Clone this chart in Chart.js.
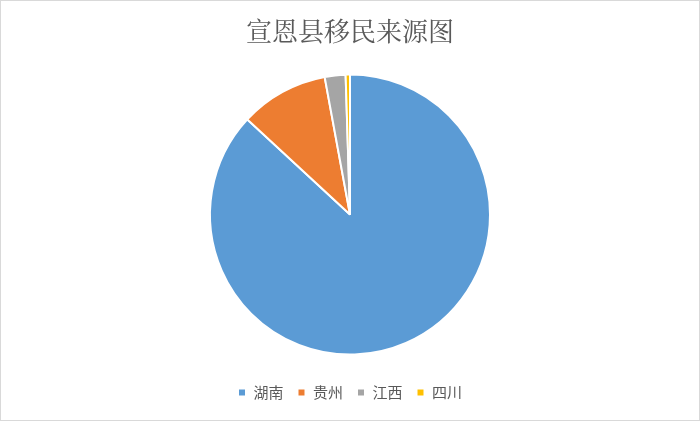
<!DOCTYPE html>
<html>
<head>
<meta charset="utf-8">
<script src="https://cdn.jsdelivr.net/npm/chart.js@4"></script>
<style>
  html,body{margin:0;padding:0;background:#fff}
  #wrap{width:700px;height:421px;position:relative}
</style>
</head>
<body>
<div id="wrap"><canvas id="myChart" width="700" height="421"></canvas></div>
<script>
// 宣恩县移民来源 (share, %)
let provinces = ["湖南", "贵州", "江西", "四川"]
let shares = [86.9, 10.2, 2.4, 0.5]
let sliceColors = ["#5B9BD5", "#ED7D31", "#A5A5A5", "#FFC000"]

let frame = {
  id: "frame",
  afterDraw(chart) {
    let c = chart.ctx
    c.save()
    c.strokeStyle = "#d9d9d9"
    c.lineWidth = 1
    c.strokeRect(0.5, 0.5, chart.width - 1, chart.height - 1)
    c.restore()
  }
}

let ctx = document.getElementById("myChart").getContext("2d")
let myChart = new Chart(ctx, {
  type: "pie",
  data: {
    labels: provinces,
    datasets: [{
      data: shares,
      backgroundColor: sliceColors,
      borderColor: "#ffffff",
      borderWidth: 2
    }]
  },
  options: {
    responsive: false,
    animation: false,
    radius: 140,
    layout: { padding: { top: 0, bottom: 11 } },
    plugins: {
      title: {
        display: true,
        text: "宣恩县移民来源图",
        color: "#595959",
        font: { family: "'Noto Serif CJK SC', 'Noto Sans CJK SC'", size: 26, weight: "normal" },
        padding: { top: 16, bottom: 11 }
      },
      legend: {
        position: "bottom",
        labels: {
          color: "#595959",
          font: { family: "'Noto Sans CJK SC'", size: 15 },
          boxWidth: 8,
          boxHeight: 8,
          padding: 14
        }
      },
      tooltip: { enabled: false }
    }
  },
  plugins: [frame]
})
</script>
</body>
</html>
